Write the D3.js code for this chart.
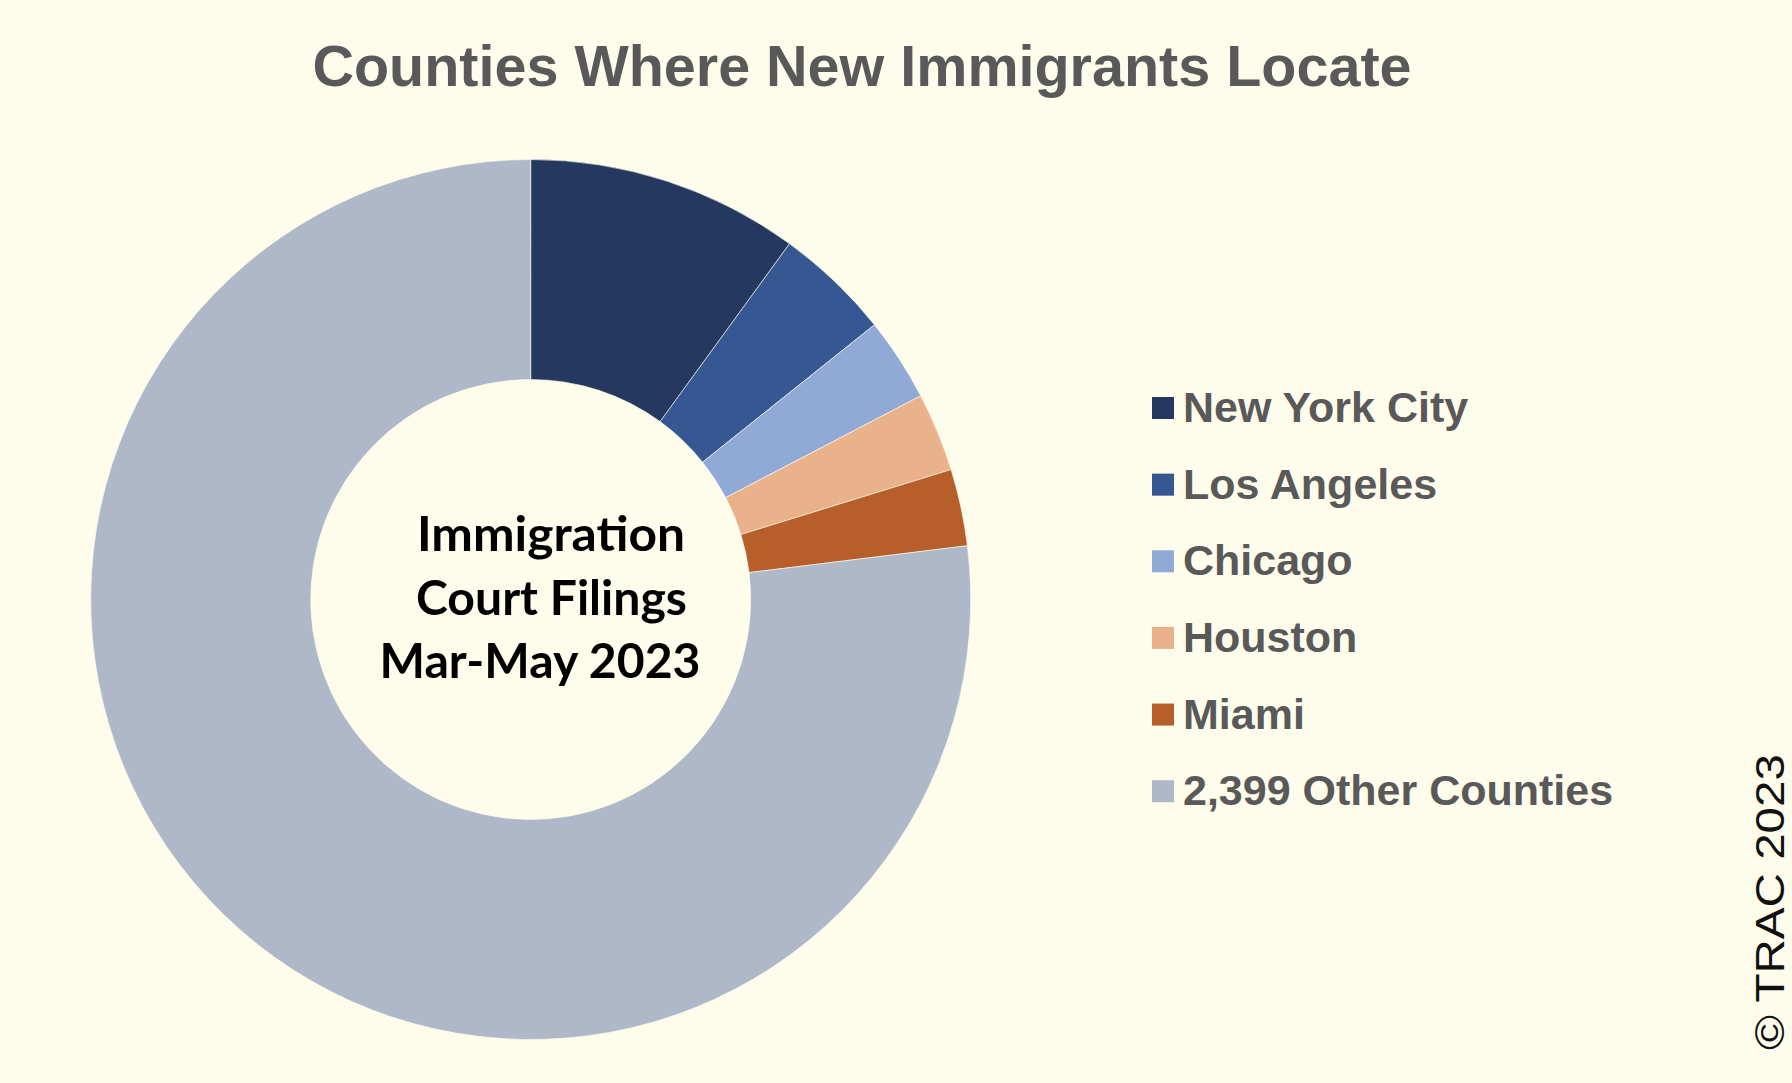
<!DOCTYPE html>
<html>
<head>
<meta charset="utf-8">
<script src="https://cdn.jsdelivr.net/npm/d3@7"></script>
<style>
  html, body { margin: 0; padding: 0; background: #FEFDEC; }
  svg { display: block; }
</style>
</head>
<body>
<svg id="chart" width="1792" height="1083"></svg>
<script>
// ---- data ----
const categories = ["New York City", "Los Angeles", "Chicago", "Houston", "Miami", "2,399 Other Counties"];
const shares = [10.01, 4.26, 3.07, 2.89, 2.82, 76.95];   // percent of filings
const colors = ["#253860", "#365791", "#91A9D6", "#EAB28A", "#B65F2A", "#AFB8C8"];
const titleText = "Counties Where New Immigrants Locate";
const centerLines = ["Immigration", "Court Filings", "Mar-May 2023"];
const creditText = "\u00A9 TRAC 2023";

// ---- layout ----
const W = 1792, H = 1083;
const cx = 530.7, cy = 599.5, outerR = 440, innerR = 220;

const svg = d3.select("#chart");
svg.append("rect").attr("width", W).attr("height", H).attr("fill", "#FEFDEC");

// Title
svg.append("text")
  .attr("x", 862).attr("y", 86)
  .attr("text-anchor", "middle")
  .attr("font-family", "'Liberation Sans', Arial, sans-serif")
  .attr("font-weight", "bold")
  .attr("font-size", 57.5)
  .attr("fill", "#595959")
  .text(titleText);

// Donut
const color = d3.scaleOrdinal().domain(categories).range(colors);
const pie = d3.pie().sort(null).value(d => d.v).startAngle(0).endAngle(2 * Math.PI);
const arc = d3.arc().innerRadius(innerR).outerRadius(outerR);
const data = categories.map((c, i) => ({ c, v: shares[i] }));

svg.append("g")
  .attr("transform", `translate(${cx},${cy})`)
  .selectAll("path")
  .data(pie(data))
  .join("path")
  .attr("d", arc)
  .attr("fill", d => color(d.data.c))
  .attr("stroke", "#FEFDEC")
  .attr("stroke-width", 0.6);

// Center label
const centerSpec = [
  { x: 551, y: 551, w: 268 },
  { x: 551.5, y: 615, w: 271 },
  { x: 540, y: 678, w: 321 }
];
svg.append("g")
  .selectAll("text")
  .data(centerLines)
  .join("text")
  .attr("x", (d, i) => centerSpec[i].x)
  .attr("y", (d, i) => centerSpec[i].y)
  .attr("text-anchor", "middle")
  .attr("font-family", "Lato, 'Open Sans', sans-serif")
  .attr("font-weight", "bold")
  .attr("font-size", 48)
  .attr("fill", "#000")
  .attr("textLength", (d, i) => centerSpec[i].w)
  .attr("lengthAdjust", "spacingAndGlyphs")
  .text(d => d);

// Legend
const legendY = d3.scalePoint().domain(categories).range([408, 791.2]);
const lg = svg.append("g");
const items = lg.selectAll("g").data(categories).join("g")
  .attr("transform", d => `translate(1152,${legendY(d)})`);
items.append("rect")
  .attr("x", 0).attr("y", -11).attr("width", 22).attr("height", 22)
  .attr("fill", d => color(d));
items.append("text")
  .attr("x", 31).attr("y", 14)
  .attr("font-family", "'Liberation Sans', Arial, sans-serif")
  .attr("font-weight", "bold")
  .attr("font-size", 43)
  .attr("fill", "#595959")
  .text(d => d);

// Credit (rotated)
svg.append("text")
  .attr("transform", "translate(1784,1050) rotate(-90)")
  .attr("font-family", "'Liberation Sans', Arial, sans-serif")
  .attr("font-size", 40)
  .attr("fill", "#111")
  .attr("textLength", 296)
  .attr("lengthAdjust", "spacingAndGlyphs")
  .text(creditText);
</script>
</body>
</html>
